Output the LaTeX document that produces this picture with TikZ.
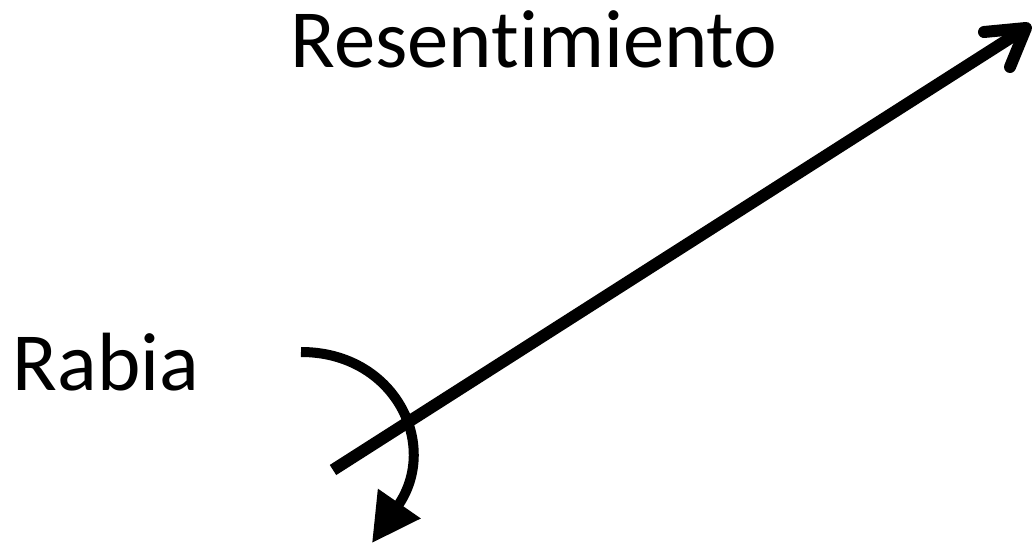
\documentclass[tikz,border=0pt]{standalone}
\usepackage{fontspec}
\setmainfont[Ligatures=NoCommon]{Carlito}
\usetikzlibrary{arrows.meta}
\begin{document}
\begin{tikzpicture}[x=0.75pt,y=-0.75pt,
  lbl/.style={inner sep=0pt,font=\fontsize{62}{72}\selectfont},
  thick line/.style={line width=9pt,line cap=butt},
  barb/.style={line width=9pt,line cap=round,line join=round},
  curve/.style={line width=7.5pt,-{Triangle[length=36pt,width=37pt]}}]
\useasboundingbox (0,0) rectangle (1033,545);
\node[lbl,anchor=base] (res) at (534,68) {Resentimiento};
\node[lbl,anchor=base] (rab) at (106,391) {Rabia};
\coordinate (s) at (333,470);
\coordinate (t) at (1026,28);
\coordinate (a1) at (984,32);
\coordinate (a2) at (1010,67);
\draw[thick line] (s) -- (t);
\draw[barb] (a1) -- (t) -- (a2);
\coordinate (c0) at (301,352);
\coordinate (c1) at (372,543);
\draw[curve] (c0) .. controls (395,352) and (440,445) .. (c1);
\end{tikzpicture}
\end{document}
